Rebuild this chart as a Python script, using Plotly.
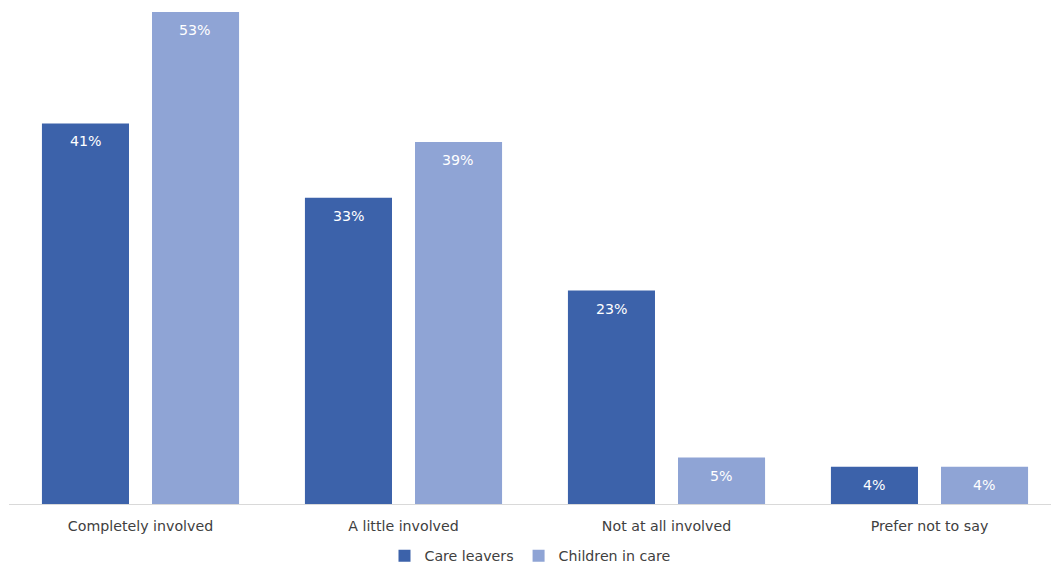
import plotly.graph_objects as go

categories = ["Completely involved", "A little involved", "Not at all involved", "Prefer not to say"]
care_leavers = [41, 33, 23, 4]
children_in_care = [53, 39, 5, 4]
series_names = ["Care leavers", "Children in care"]
colors = ["#3C62AA", "#8FA4D5"]

FONT = "DejaVu Sans, Verdana, sans-serif"
FS = 14.2

fig = go.Figure()
for name, vals, col in zip(series_names, [care_leavers, children_in_care], colors):
    fig.add_trace(go.Bar(
        name=name, x=categories, y=vals, marker=dict(color=col, line=dict(width=0)),
        text=[f"{v}%" for v in vals], textposition="none",
    ))

# value labels inside the bar tops
for i, (name, vals) in enumerate(zip(series_names, [care_leavers, children_in_care])):
    offset = -0.209 if i == 0 else 0.209
    for j, v in enumerate(vals):
        fig.add_annotation(
            x=j + offset, y=v, xref="x", yref="y", text=f"{v}%", showarrow=False,
            yanchor="middle", yshift=-18, font=dict(family=FONT, size=FS, color="white"),
        )

fig.update_layout(
    width=1051, height=567,
    margin=dict(l=9, r=0, t=0, b=63, autoexpand=False),
    paper_bgcolor="white", plot_bgcolor="white",
    barmode="group", bargap=0.163, bargroupgap=0.209,
    font=dict(family=FONT, size=FS, color="#404040"),
    showlegend=True,
    legend=dict(orientation="h", x=0.5, xanchor="center", y=-0.103, yanchor="middle",
                font=dict(family=FONT, size=FS, color="#404040"), itemwidth=30,
                traceorder="normal"),
    xaxis=dict(range=[-0.5, 3.462], showline=True, linecolor="#D9D9D9", linewidth=1,
               ticks="", showgrid=False, ticklabelstandoff=9,
               tickfont=dict(family=FONT, size=FS, color="#404040")),
    yaxis=dict(range=[0, 54.3], showgrid=False, showticklabels=False, zeroline=False,
               showline=False, ticks=""),
)

fig.write_html("out.html")
